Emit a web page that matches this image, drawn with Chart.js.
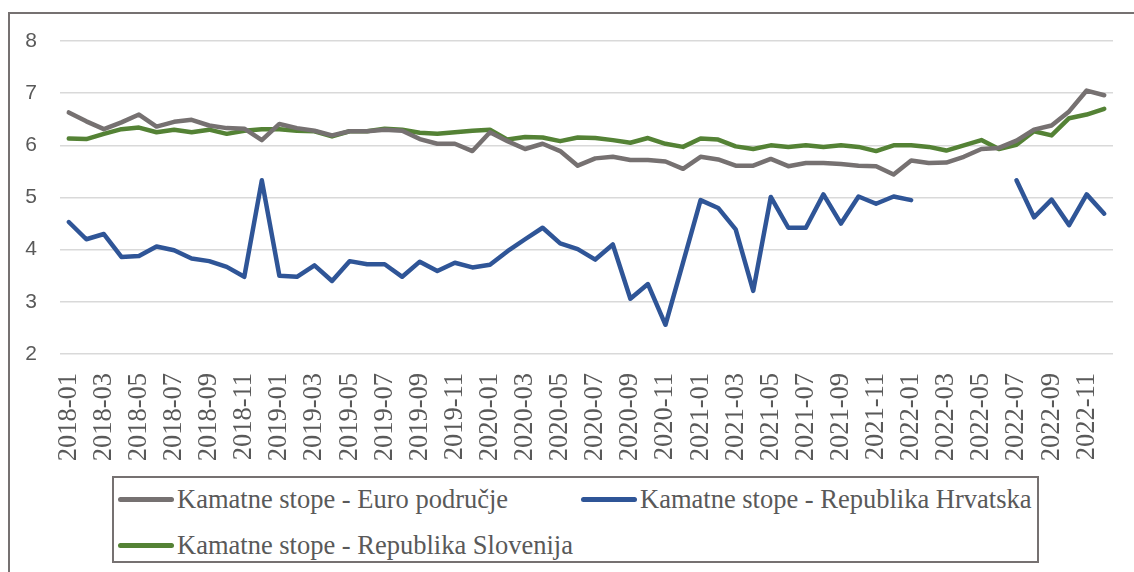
<!DOCTYPE html>
<html>
<head>
<meta charset="utf-8">
<script src="https://cdn.jsdelivr.net/npm/chart.js@4"></script>
<style>
    body { margin: 0; background: #fff; width: 1134px; height: 572px; overflow: hidden; position: relative; }
    #frame { position: absolute; left: 8px; top: 12px; width: 1200px; height: 600px; border: 2px solid #767171; box-sizing: border-box; }
    #wrap { position: absolute; left: 0; top: 0; width: 1134px; height: 474px; }
    #legend { position: absolute; left: 112px; top: 476px; width: 927px; height: 87px; border: 2px solid #767171; box-sizing: border-box; }
    .item { position: absolute; font-family: "Liberation Serif", serif; font-size: 26.5px; color: #595959; white-space: nowrap; line-height: 30px; }
    .swatch { position: absolute; width: 56px; height: 5px; border-radius: 3px; }
</style>
</head>
<body>
<div id="frame"></div>
<div id="wrap"><canvas id="myChart"></canvas></div>
<div id="legend"></div>
<script>
const years = [2018, 2019, 2020, 2021, 2022];
const months = ["01", "02", "03", "04", "05", "06", "07", "08", "09", "10", "11", "12"];
const labels = [];
years.forEach(y => months.forEach(m => labels.push(y + "-" + m)));

const euroArea = [
    6.63, 6.46, 6.31, 6.44, 6.59, 6.36, 6.45, 6.49, 6.38, 6.33,
    6.32, 6.10, 6.41, 6.33, 6.28, 6.19, 6.27, 6.27, 6.30, 6.28,
    6.12, 6.03, 6.03, 5.89, 6.25, 6.08, 5.93, 6.03, 5.89, 5.61,
    5.75, 5.78, 5.72, 5.72, 5.69, 5.55, 5.78, 5.73, 5.61, 5.61,
    5.74, 5.60, 5.66, 5.66, 5.64, 5.61, 5.60, 5.44, 5.71, 5.66,
    5.67, 5.78, 5.93, 5.95, 6.09, 6.30, 6.38, 6.65, 7.05, 6.96
];
const croatia = [
    4.53, 4.20, 4.30, 3.86, 3.88, 4.06, 3.99, 3.83, 3.78, 3.67,
    3.48, 5.33, 3.50, 3.48, 3.70, 3.40, 3.78, 3.72, 3.72, 3.48,
    3.77, 3.59, 3.75, 3.66, 3.71, 3.97, 4.20, 4.42, 4.12, 4.01,
    3.81, 4.10, 3.06, 3.34, 2.56, 3.75, 4.95, 4.80, 4.39, 3.21,
    5.01, 4.42, 4.42, 5.06, 4.50, 5.02, 4.88, 5.02, 4.95, null,
    null, null, null, null, 5.33, 4.62, 4.96, 4.47, 5.06, 4.69
];
const slovenia = [
    6.13, 6.12, 6.22, 6.31, 6.34, 6.25, 6.30, 6.25, 6.30, 6.22,
    6.28, 6.31, 6.31, 6.28, 6.27, 6.17, 6.27, 6.27, 6.32, 6.30,
    6.24, 6.22, 6.25, 6.28, 6.30, 6.11, 6.16, 6.15, 6.08, 6.15,
    6.14, 6.10, 6.05, 6.14, 6.03, 5.97, 6.13, 6.11, 5.98, 5.93,
    6.00, 5.97, 6.00, 5.97, 6.00, 5.97, 5.89, 6.00, 6.00, 5.97,
    5.90, 6.00, 6.10, 5.93, 6.01, 6.27, 6.19, 6.52, 6.59, 6.70
];
const seriesNames = ["Kamatne stope - Euro područje", "Kamatne stope - Republika Hrvatska", "Kamatne stope - Republika Slovenija"];
const seriesColors = ["#767171", "#2F5597", "#548235"];

function line(name, data, color) {
    return {
        label: name,
        data: data,
        borderColor: color,
        backgroundColor: color,
        borderWidth: 4.5,
        pointRadius: 0,
        borderJoinStyle: "round",
        borderCapStyle: "round",
        tension: 0,
        spanGaps: false,
    };
}

const ctx = document.getElementById("myChart").getContext("2d");
const myChart = new Chart(ctx, {
    type: "line",
    data: {
        labels: labels,
        datasets: [
            line(seriesNames[0], euroArea, seriesColors[0]),
            line(seriesNames[1], croatia, seriesColors[1]),
            line(seriesNames[2], slovenia, seriesColors[2]),
        ],
    },
    options: {
        animation: false,
        responsive: true,
        maintainAspectRatio: false,
        layout: { padding: { top: 41, right: 21, left: 0, bottom: 0 } },
        plugins: {
            legend: { display: false },
            tooltip: { enabled: false },
        },
        scales: {
            x: {
                offset: true,
                grid: { display: false },
                border: { display: false },
                afterFit: (scale) => {
                    scale.height = 120;
                    scale.paddingLeft = 0;
                    scale.paddingRight = 0;
                },
                ticks: {
                    autoSkip: false,
                    minRotation: 90,
                    maxRotation: 90,
                    padding: 11,
                    color: "#595959",
                    font: { family: "Liberation Serif", size: 26.5 },
                    callback: function (value, index) {
                        return index % 2 === 0 ? this.getLabelForValue(value) : "";
                    },
                },
            },
            y: {
                min: 2,
                max: 8,
                afterFit: (scale) => { scale.width = 60; },
                grid: { color: "#d9d9d9", lineWidth: 1.5, drawTicks: false },
                border: { display: false },
                ticks: {
                    stepSize: 1,
                    padding: 23,
                    color: "#595959",
                    font: { family: "Liberation Sans", size: 21 },
                },
            },
        },
    },
});

// legend box below the chart
const legendPos = [[4, 6], [467, 6], [4, 52]];
const legendBox = document.getElementById("legend");
seriesNames.forEach((name, i) => {
    const sw = document.createElement("div");
    sw.className = "swatch";
    sw.style.background = seriesColors[i];
    sw.style.left = legendPos[i][0] + "px";
    sw.style.top = (legendPos[i][1] + 12.5) + "px";
    legendBox.appendChild(sw);
    const tx = document.createElement("div");
    tx.className = "item";
    tx.textContent = name;
    tx.style.left = (legendPos[i][0] + 59) + "px";
    tx.style.top = legendPos[i][1] + "px";
    legendBox.appendChild(tx);
});
</script>
</body>
</html>
